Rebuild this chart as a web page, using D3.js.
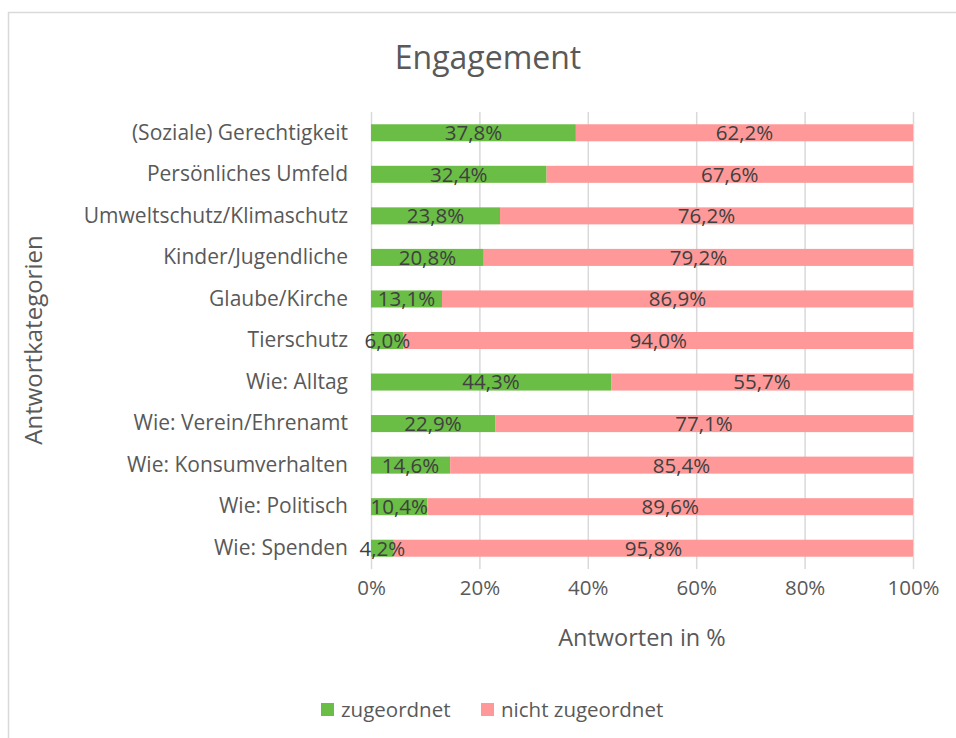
<!DOCTYPE html>
<html><head><meta charset="utf-8">
<script src="https://cdn.jsdelivr.net/npm/d3@7"></script>
<style>body{margin:0;background:#fff}svg{display:block;font-family:"Open Sans",sans-serif}</style>
</head><body><svg id="c" width="956" height="738"></svg>
<script>
const categories = ["(Soziale) Gerechtigkeit","Persönliches Umfeld","Umweltschutz/Klimaschutz","Kinder/Jugendliche","Glaube/Kirche","Tierschutz","Wie: Alltag","Wie: Verein/Ehrenamt","Wie: Konsumverhalten","Wie: Politisch","Wie: Spenden"];
const zugeordnet = [37.8,32.4,23.8,20.8,13.1,6.0,44.3,22.9,14.6,10.4,4.2];
const nichtZugeordnet = [62.2,67.6,76.2,79.2,86.9,94.0,55.7,77.1,85.4,89.6,95.8];
const seriesNames = ["zugeordnet","nicht zugeordnet"];
const colors = ["#6abd45","#ff9999"];
const xTicks = [0,20,40,60,80,100];
const FONT = "'Open Sans',sans-serif";

const svg = d3.select("#c");
svg.append("rect").attr("x",8.5).attr("y",12.5).attr("width",1000).attr("height",800)
  .attr("fill","#fff").attr("stroke","#d9d9d9").attr("stroke-width",1.5);

const x = d3.scaleLinear().domain([0,100]).range([371,913]);
const y = d3.scaleBand().domain(categories).range([112,569]).paddingInner(0.59).paddingOuter(0.295);

svg.append("text").attr("x",488).attr("y",69).attr("text-anchor","middle")
  .attr("font-size",32).attr("fill","#595959").text("Engagement");

const xAxis = d3.axisBottom(x).tickValues(xTicks).tickFormat(d=>d+"%").tickSize(-(569-112)).tickPadding(14);
const gx = svg.append("g").attr("transform","translate(0,569)").call(xAxis);
gx.select(".domain").remove();
gx.selectAll(".tick line").attr("stroke","#d9d9d9").attr("stroke-width",1.5);
gx.selectAll(".tick text").attr("font-size",20.5).attr("fill","#595959").attr("font-family",FONT).attr("dy","0.6em");

const yAxis = d3.axisLeft(y).tickSize(0).tickPadding(23);
const gy = svg.append("g").attr("transform","translate(371,0)").call(yAxis);
gy.select(".domain").remove();
gy.selectAll(".tick text").attr("font-size",21).attr("fill","#595959").attr("font-family",FONT);

const stackData = categories.map((c,i)=>({cat:c, z:zugeordnet[i], n:nichtZugeordnet[i]}));
const series = d3.stack().keys(["z","n"])(stackData);

series.forEach((s,si)=>{
  svg.append("g").selectAll("rect").data(s).join("rect")
    .attr("x",d=>x(d[0])).attr("width",d=>x(d[1])-x(d[0]))
    .attr("y",d=>y(d.data.cat)).attr("height",y.bandwidth())
    .attr("fill",colors[si]);
});
series.forEach((s,si)=>{
  svg.append("g").selectAll("text").data(s).join("text")
    .attr("x",d=>(x(d[0])+x(d[1]))/2).attr("y",d=>y(d.data.cat)+y.bandwidth()/2)
    .attr("dy","0.36em").attr("text-anchor","middle")
    .attr("font-size",20.5).attr("fill","#404040")
    .text(d=>(d[1]-d[0]).toFixed(1).replace(".",",")+"%");
});

svg.append("text").attr("x",642).attr("y",646).attr("text-anchor","middle")
  .attr("font-size",23.5).attr("fill","#595959").text("Antworten in %");
svg.append("text").attr("transform","translate(42,340) rotate(-90)").attr("text-anchor","middle")
  .attr("font-size",24).attr("fill","#595959").text("Antwortkategorien");

const leg = [{x:321,tx:341},{x:481,tx:501}];
seriesNames.forEach((n,i)=>{
  svg.append("rect").attr("x",leg[i].x).attr("y",703).attr("width",13).attr("height",13).attr("fill",colors[i]);
  svg.append("text").attr("x",leg[i].tx).attr("y",716.5).attr("font-size",20.5).attr("fill","#595959").text(n);
});
</script></body></html>
